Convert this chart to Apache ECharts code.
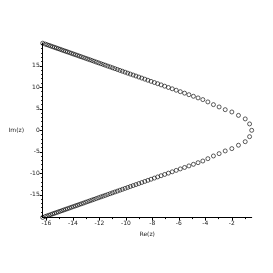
<!DOCTYPE html>
<html><head><meta charset="utf-8">
<script src="https://cdn.jsdelivr.net/npm/echarts@6/dist/echarts.min.js"></script>
<style>html,body{margin:0;padding:0;background:#fff}#c{width:273px;height:273px}</style>
</head><body><div id="c"></div>
<script>
// Real root
const realRootRe = [-0.50];
const realRootIm = [0];
// Upper branch roots (lower branch = complex conjugates)
const upperRe = [-0.66,-0.99,-1.50,-2.00,-2.50,-2.96,-3.39,-3.81,-4.19,-4.55,-4.90,-5.24,-5.57,-5.89,-6.20,-6.50,-6.79,-7.07,-7.34,-7.60,-7.85,-8.10,-8.34,-8.57,-8.80,-9.02,-9.24,-9.45,-9.66,-9.86,-10.06,-10.26,-10.45,-10.64,-10.83,-11.01,-11.19,-11.37,-11.55,-11.72,-11.89,-12.06,-12.23,-12.40,-12.56,-12.72,-12.88,-13.04,-13.20,-13.36,-13.51,-13.66,-13.81,-13.96,-14.11,-14.26,-14.41,-14.55,-14.69,-14.83,-14.97,-15.11,-15.25,-15.39,-15.53,-15.67,-15.81,-15.95,-16.09,-16.28];
const upperIm = [1.48,2.65,3.47,4.26,4.80,5.43,5.97,6.60,7.14,7.53,7.91,8.28,8.64,8.98,9.32,9.65,9.96,10.26,10.56,10.84,11.11,11.38,11.64,11.89,12.14,12.38,12.62,12.85,13.07,13.29,13.51,13.73,13.93,14.14,14.34,14.54,14.74,14.93,15.13,15.31,15.49,15.68,15.86,16.05,16.22,16.40,16.57,16.74,16.92,17.09,17.25,17.42,17.58,17.74,17.90,18.07,18.23,18.38,18.53,18.68,18.84,18.99,19.14,19.29,19.44,19.60,19.75,19.90,20.05,20.26];
const xTicks = [-16,-14,-12,-10,-8,-6,-4,-2];
const xMinorTicks = [-16,-15,-14,-13,-12,-11,-10,-9,-8,-7,-6,-5,-4,-3,-2,-1];
const yTicks = [-15,-10,-5,0,5,10,15];
const yMinorTicks = [-20,-19,-18,-17,-16,-15,-14,-13,-12,-11,-10,-9,-8,-7,-6,-5,-4,-3,-2,-1,0,1,2,3,4,5,6,7,8,9,10,11,12,13,14,15,16,17,18,19,20];
const xTitle = 'Re(z)', yTitle = 'Im(z)';

const pts = [];
realRootRe.forEach((r,i)=>pts.push([r, realRootIm[i]]));
upperRe.forEach((r,i)=>{pts.push([r, upperIm[i]]); pts.push([r, -upperIm[i]]);});

const XMIN=-16.28, XMAX=-0.50, YMIN=-20.3, YMAX=20.3;
const lab = {fontSize:6, color:'#222', fontFamily:'DejaVu Sans'};
const chart = echarts.init(document.getElementById('c'), null, {renderer:'canvas'});
chart.setOption({
  animation:false,
  grid:{left:42.7, right:21.3, top:43, bottom:55.4},
  xAxis:[
    {type:'value', min:XMIN, max:XMAX, position:'bottom',
     axisLine:{show:true, onZero:false, lineStyle:{color:'#000', width:1}},
     axisTick:{show:true, customValues:xTicks, length:3, lineStyle:{color:'#000'}},
     axisLabel:{customValues:xTicks, margin:3, ...lab},
     splitLine:{show:false},
     name:xTitle, nameLocation:'middle', nameGap:10, nameTextStyle:lab},
    {type:'value', min:XMIN, max:XMAX, position:'bottom',
     axisLine:{show:false, onZero:false},
     axisTick:{show:true, customValues:xMinorTicks, length:1.5, lineStyle:{color:'#000'}},
     axisLabel:{show:false}, splitLine:{show:false}}
  ],
  yAxis:[
    {type:'value', min:YMIN, max:YMAX, position:'left',
     axisLine:{show:true, onZero:false, lineStyle:{color:'#000', width:1}},
     axisTick:{show:true, customValues:yTicks, length:3, lineStyle:{color:'#000'}},
     axisLabel:{customValues:yTicks, margin:3, ...lab},
     splitLine:{show:false},
     name:yTitle, nameLocation:'middle', nameGap:12, nameRotate:0, nameTextStyle:{...lab, align:'center'}},
    {type:'value', min:YMIN, max:YMAX, position:'left',
     axisLine:{show:false, onZero:false},
     axisTick:{show:true, customValues:yMinorTicks, length:1.5, lineStyle:{color:'#000'}},
     axisLabel:{show:false}, splitLine:{show:false}}
  ],
  series:[{type:'scatter', xAxisIndex:0, yAxisIndex:0, data:pts, symbol:'circle', symbolSize:4,
    itemStyle:{color:'rgba(255,255,255,0)', borderColor:'#000', borderWidth:0.8}}]
});
</script></body></html>
